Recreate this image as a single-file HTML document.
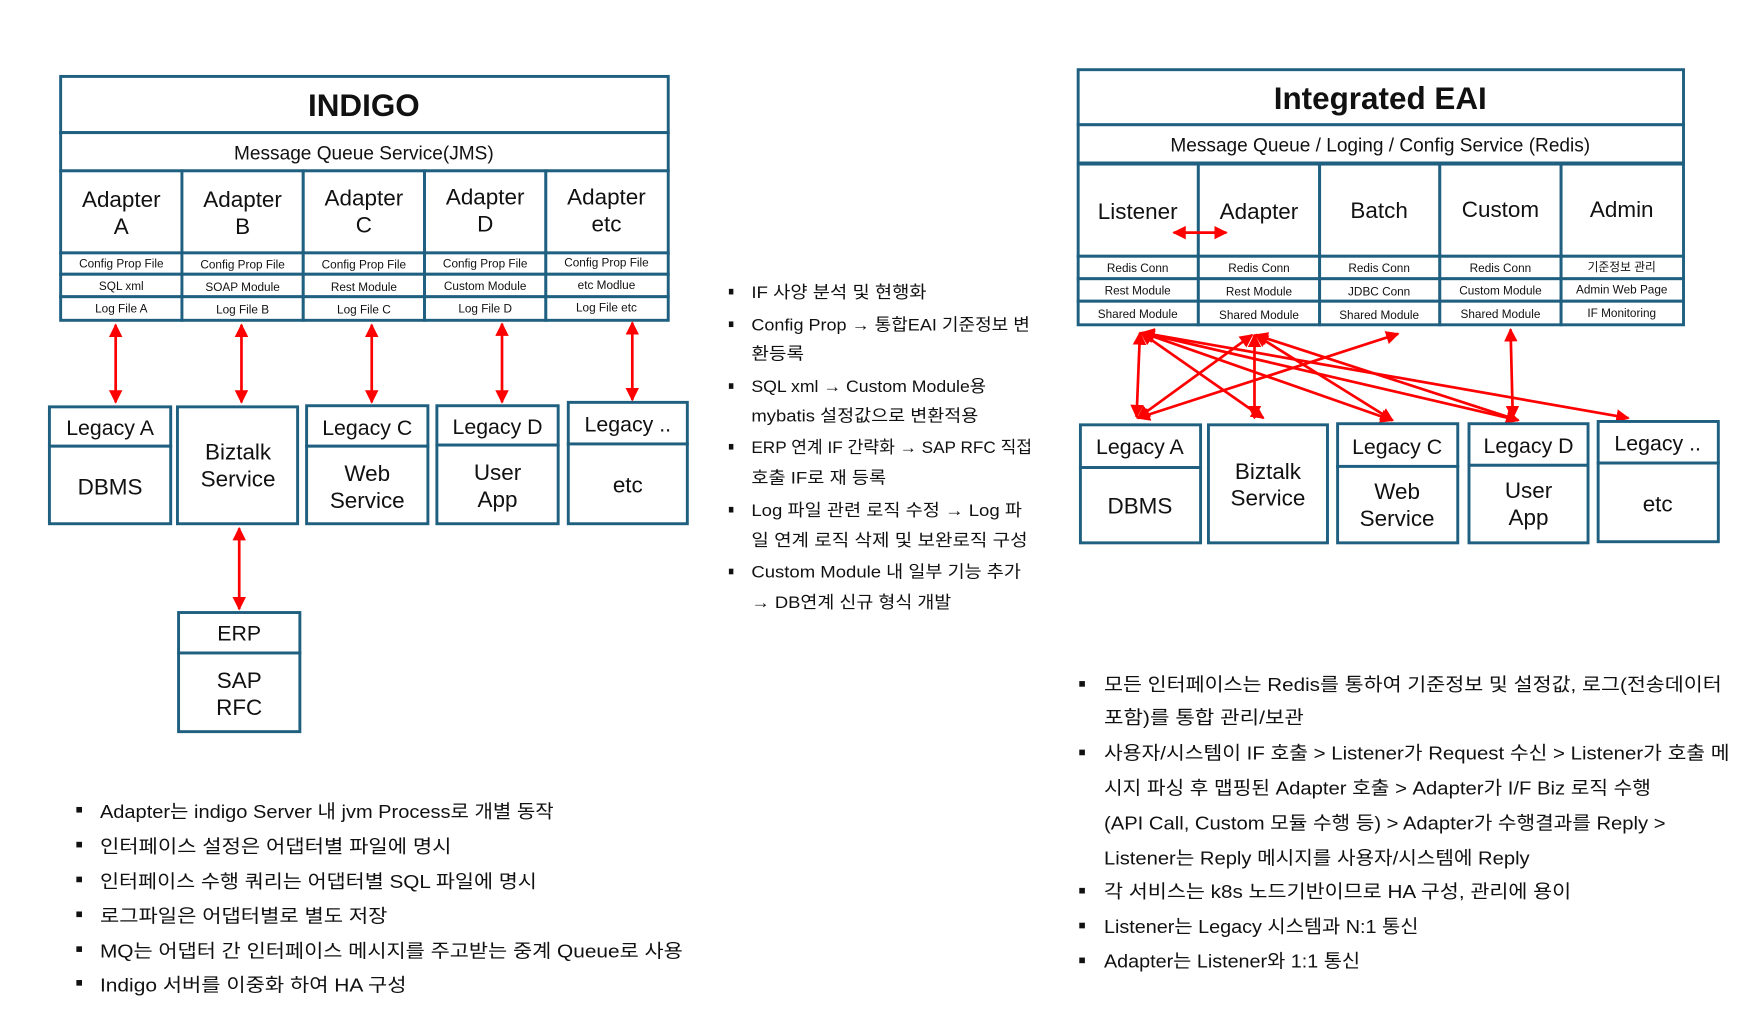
<!DOCTYPE html>
<html><head><meta charset="utf-8"><style>
html,body{margin:0;padding:0;background:#fff;width:1761px;height:1016px;overflow:hidden}
svg{display:block}
text{font-family:"Liberation Sans","Noto Sans CJK KR",sans-serif;fill:#111}
.b{fill:#fff;stroke:#1f5f80;stroke-width:2.6}
.s{font-size:10.5px}
.m{font-size:19px}
.h{font-size:20px}
.a{stroke:#f00;stroke-width:2.4;fill:none;marker-start:url(#ah);marker-end:url(#ah)}
.t1{font-size:15px}
.t2{font-size:16.5px}
</style></head><body>
<svg width="1761" height="1016" viewBox="0 0 1568 904" preserveAspectRatio="none">
<defs><marker id="ah" viewBox="0 0 10 10" refX="9" refY="5" markerWidth="5" markerHeight="5" orient="auto-start-reverse"><path d="M0,0L10,5L0,10z" fill="#f00"/></marker></defs>

<!-- INDIGO -->
<rect class="b" x="54" y="68" width="541" height="50"/>
<text x="324" y="103" text-anchor="middle" font-size="28" font-weight="bold">INDIGO</text>
<rect class="b" x="54" y="118" width="541" height="34"/>
<text x="324" y="142" text-anchor="middle" style="font-size:17px">Message Queue Service(JMS)</text>
<g>
<rect class="b" x="54" y="152" width="108" height="73"/><rect class="b" x="162" y="152" width="108" height="73"/><rect class="b" x="270" y="152" width="108" height="73"/><rect class="b" x="378" y="152" width="108" height="73"/><rect class="b" x="486" y="152" width="109" height="73"/>
<text class="h" text-anchor="middle"><tspan x="108" y="184">Adapter</tspan><tspan x="108" y="208">A</tspan></text>
<text class="h" text-anchor="middle"><tspan x="216" y="184">Adapter</tspan><tspan x="216" y="208">B</tspan></text>
<text class="h" text-anchor="middle"><tspan x="324" y="183">Adapter</tspan><tspan x="324" y="207">C</tspan></text>
<text class="h" text-anchor="middle"><tspan x="432" y="182">Adapter</tspan><tspan x="432" y="206">D</tspan></text>
<text class="h" text-anchor="middle"><tspan x="540" y="182">Adapter</tspan><tspan x="540" y="206">etc</tspan></text>
</g>
<g>
<rect class="b" x="54" y="225" width="108" height="19"/><rect class="b" x="54" y="244" width="108" height="20"/><rect class="b" x="54" y="264" width="108" height="21"/>
<rect class="b" x="162" y="225" width="108" height="19"/><rect class="b" x="162" y="244" width="108" height="20"/><rect class="b" x="162" y="264" width="108" height="21"/>
<rect class="b" x="270" y="225" width="108" height="19"/><rect class="b" x="270" y="244" width="108" height="20"/><rect class="b" x="270" y="264" width="108" height="21"/>
<rect class="b" x="378" y="225" width="108" height="19"/><rect class="b" x="378" y="244" width="108" height="20"/><rect class="b" x="378" y="264" width="108" height="21"/>
<rect class="b" x="486" y="225" width="109" height="19"/><rect class="b" x="486" y="244" width="109" height="20"/><rect class="b" x="486" y="264" width="109" height="21"/>
<g class="s" text-anchor="middle">
<text x="108" y="238">Config Prop File</text><text x="108" y="258">SQL xml</text><text x="108" y="278">Log File A</text>
<text x="216" y="239">Config Prop File</text><text x="216" y="259">SOAP Module</text><text x="216" y="279">Log File B</text>
<text x="324" y="239">Config Prop File</text><text x="324" y="259">Rest Module</text><text x="324" y="279">Log File C</text>
<text x="432" y="238">Config Prop File</text><text x="432" y="258">Custom Module</text><text x="432" y="278">Log File D</text>
<text x="540" y="237">Config Prop File</text><text x="540" y="257">etc Modlue</text><text x="540" y="277">Log File etc</text>
</g></g>
<line class="a" x1="103" y1="289" x2="103" y2="358"/>
<line class="a" x1="215" y1="289" x2="215" y2="358"/>
<line class="a" x1="331" y1="289" x2="331" y2="358"/>
<line class="a" x1="447" y1="288" x2="447" y2="358"/>
<line class="a" x1="563" y1="287" x2="563" y2="356"/>

<rect class="b" x="44" y="362" width="108" height="35"/><rect class="b" x="44" y="397" width="108" height="69"/>
<text x="98" y="387" text-anchor="middle" class="m">Legacy A</text><text x="98" y="440" text-anchor="middle" class="h">DBMS</text>
<rect class="b" x="158" y="362" width="107" height="104"/>
<text class="h" text-anchor="middle"><tspan x="212" y="409">Biztalk</tspan><tspan x="212" y="433">Service</tspan></text>
<rect class="b" x="273" y="361" width="108" height="36"/><rect class="b" x="273" y="397" width="108" height="69"/>
<text x="327" y="387" text-anchor="middle" class="m">Legacy C</text>
<text class="h" text-anchor="middle"><tspan x="327" y="428">Web</tspan><tspan x="327" y="452">Service</tspan></text>
<rect class="b" x="389" y="361" width="108" height="35"/><rect class="b" x="389" y="396" width="108" height="70"/>
<text x="443" y="386" text-anchor="middle" class="m">Legacy D</text>
<text class="h" text-anchor="middle"><tspan x="443" y="427">User</tspan><tspan x="443" y="451">App</tspan></text>
<rect class="b" x="506" y="358" width="106" height="37"/><rect class="b" x="506" y="395" width="106" height="71"/>
<text x="559" y="384" text-anchor="middle" class="m">Legacy ..</text><text x="559" y="438" text-anchor="middle" class="h">etc</text>

<line class="a" x1="213" y1="470" x2="213" y2="542"/>
<rect class="b" x="159" y="545" width="108" height="36"/><rect class="b" x="159" y="581" width="108" height="70"/>
<text x="213" y="570" text-anchor="middle" class="m">ERP</text>
<text class="h" text-anchor="middle"><tspan x="213" y="612">SAP</tspan><tspan x="213" y="636">RFC</tspan></text>

<!-- Left bullets -->
<g class="t2">
<text x="89" y="728" textLength="404" lengthAdjust="spacingAndGlyphs">Adapter는 indigo Server 내 jvm Process로 개별 동작</text>
<text x="89" y="759" textLength="313" lengthAdjust="spacingAndGlyphs">인터페이스 설정은 어댑터별 파일에 명시</text>
<text x="89" y="790" textLength="389" lengthAdjust="spacingAndGlyphs">인터페이스 수행 쿼리는 어댑터별 SQL 파일에 명시</text>
<text x="89" y="821" textLength="256" lengthAdjust="spacingAndGlyphs">로그파일은 어댑터별로 별도 저장</text>
<text x="89" y="852" textLength="519" lengthAdjust="spacingAndGlyphs">MQ는 어댑터 간 인터페이스 메시지를 주고받는 중계 Queue로 사용</text>
<text x="89" y="882" textLength="273" lengthAdjust="spacingAndGlyphs">Indigo 서버를 이중화 하여 HA 구성</text>
</g>
<g fill="#111"><rect x="68" y="718" width="5" height="5"/><rect x="68" y="749" width="5" height="5"/><rect x="68" y="780" width="5" height="5"/><rect x="68" y="811" width="5" height="5"/><rect x="68" y="842" width="5" height="5"/><rect x="68" y="872" width="5" height="5"/></g>

<!-- middle bullets -->
<g class="t1">
<text x="669" y="265" textLength="156" lengthAdjust="spacingAndGlyphs">IF 사양 분석 및 현행화</text>
<text x="669" y="294" textLength="248" lengthAdjust="spacingAndGlyphs">Config Prop → 통합EAI 기준정보 변</text>
<text x="669" y="320" textLength="47" lengthAdjust="spacingAndGlyphs">환등록</text>
<text x="669" y="349" textLength="209" lengthAdjust="spacingAndGlyphs">SQL xml → Custom Module용</text>
<text x="669" y="375" textLength="202" lengthAdjust="spacingAndGlyphs">mybatis 설정값으로 변환적용</text>
<text x="669" y="403" textLength="250" lengthAdjust="spacingAndGlyphs">ERP 연계 IF 간략화 → SAP RFC 직접</text>
<text x="669" y="430" textLength="120" lengthAdjust="spacingAndGlyphs">호출 IF로 재 등록</text>
<text x="669" y="459" textLength="241" lengthAdjust="spacingAndGlyphs">Log 파일 관련 로직 수정 → Log 파</text>
<text x="669" y="486" textLength="246" lengthAdjust="spacingAndGlyphs">일 연계 로직 삭제 및 보완로직 구성</text>
<text x="669" y="514" textLength="240" lengthAdjust="spacingAndGlyphs">Custom Module 내 일부 기능 추가</text>
<text x="669" y="541" textLength="178" lengthAdjust="spacingAndGlyphs">→ DB연계 신규 형식 개발</text>
</g>
<g fill="#111"><rect x="649" y="257" width="4" height="5"/><rect x="649" y="286" width="4" height="5"/><rect x="649" y="341" width="4" height="5"/><rect x="649" y="395" width="4" height="5"/><rect x="649" y="451" width="4" height="5"/><rect x="649" y="506" width="4" height="5"/></g>

<!-- Integrated EAI -->
<rect class="b" x="960" y="62" width="539" height="49"/>
<text x="1229" y="97" text-anchor="middle" font-size="28" font-weight="bold">Integrated EAI</text>
<rect class="b" x="960" y="111" width="539" height="34"/>
<text x="1229" y="135" text-anchor="middle" style="font-size:17px">Message Queue / Loging / Config Service (Redis)</text>
<rect class="b" x="960" y="146" width="107" height="82"/><rect class="b" x="1067" y="146" width="108" height="82"/><rect class="b" x="1175" y="146" width="107" height="82"/><rect class="b" x="1282" y="146" width="108" height="82"/><rect class="b" x="1390" y="146" width="109" height="82"/>
<g class="h" text-anchor="middle">
<text x="1013" y="195">Listener</text><text x="1121" y="195">Adapter</text><text x="1228" y="194">Batch</text><text x="1336" y="193">Custom</text><text x="1444" y="193">Admin</text>
</g>
<g>
<rect class="b" x="960" y="228" width="107" height="20"/><rect class="b" x="960" y="248" width="107" height="20"/><rect class="b" x="960" y="268" width="107" height="21"/>
<rect class="b" x="1067" y="228" width="108" height="20"/><rect class="b" x="1067" y="248" width="108" height="20"/><rect class="b" x="1067" y="268" width="108" height="21"/>
<rect class="b" x="1175" y="228" width="107" height="20"/><rect class="b" x="1175" y="248" width="107" height="20"/><rect class="b" x="1175" y="268" width="107" height="21"/>
<rect class="b" x="1282" y="228" width="108" height="20"/><rect class="b" x="1282" y="248" width="108" height="20"/><rect class="b" x="1282" y="268" width="108" height="21"/>
<rect class="b" x="1390" y="228" width="109" height="20"/><rect class="b" x="1390" y="248" width="109" height="20"/><rect class="b" x="1390" y="268" width="109" height="21"/>
<g class="s" text-anchor="middle">
<text x="1013" y="242">Redis Conn</text><text x="1013" y="262">Rest Module</text><text x="1013" y="283">Shared Module</text>
<text x="1121" y="242">Redis Conn</text><text x="1121" y="263">Rest Module</text><text x="1121" y="284">Shared Module</text>
<text x="1228" y="242">Redis Conn</text><text x="1228" y="263">JDBC Conn</text><text x="1228" y="284">Shared Module</text>
<text x="1336" y="242">Redis Conn</text><text x="1336" y="262">Custom Module</text><text x="1336" y="283">Shared Module</text>
<text x="1444" y="241">기준정보 관리</text><text x="1444" y="261">Admin Web Page</text><text x="1444" y="282">IF Monitoring</text>
</g></g>
<line class="a" x1="1045" y1="207" x2="1092" y2="207"/>

<g>
<line class="a" x1="1015" y1="296" x2="1012" y2="371"/>
<line class="a" x1="1016" y1="296" x2="1125" y2="372"/>
<line class="a" x1="1017" y1="296" x2="1240" y2="374"/>
<line class="a" x1="1017" y1="296" x2="1352" y2="374"/>
<line class="a" x1="1017" y1="296" x2="1450" y2="372"/>
<line class="a" x1="1115" y1="298" x2="1013" y2="372"/>
<line class="a" x1="1117" y1="298" x2="1117" y2="372"/>
<line class="a" x1="1118" y1="298" x2="1240" y2="374"/>
<line class="a" x1="1118" y1="298" x2="1352" y2="374"/>
<line class="a" x1="1013" y1="372" x2="1245" y2="297"/>
<line class="a" x1="1345" y1="293" x2="1347" y2="372"/>
</g>

<rect class="b" x="962" y="378" width="107" height="38"/><rect class="b" x="962" y="416" width="107" height="67"/>
<text x="1015" y="404" text-anchor="middle" class="m">Legacy A</text><text x="1015" y="457" text-anchor="middle" class="h">DBMS</text>
<rect class="b" x="1076" y="378" width="106" height="105"/>
<text class="h" text-anchor="middle"><tspan x="1129" y="426">Biztalk</tspan><tspan x="1129" y="450">Service</tspan></text>
<rect class="b" x="1191" y="377" width="107" height="38"/><rect class="b" x="1191" y="415" width="107" height="68"/>
<text x="1244" y="404" text-anchor="middle" class="m">Legacy C</text>
<text class="h" text-anchor="middle"><tspan x="1244" y="444">Web</tspan><tspan x="1244" y="468">Service</tspan></text>
<rect class="b" x="1308" y="377" width="106" height="37"/><rect class="b" x="1308" y="414" width="106" height="69"/>
<text x="1361" y="403" text-anchor="middle" class="m">Legacy D</text>
<text class="h" text-anchor="middle"><tspan x="1361" y="443">User</tspan><tspan x="1361" y="467">App</tspan></text>
<rect class="b" x="1423" y="375" width="107" height="37"/><rect class="b" x="1423" y="412" width="107" height="70"/>
<text x="1476" y="401" text-anchor="middle" class="m">Legacy ..</text><text x="1476" y="455" text-anchor="middle" class="h">etc</text>

<!-- right bullets -->
<g class="t2">
<text x="983" y="615" textLength="550" lengthAdjust="spacingAndGlyphs">모든 인터페이스는 Redis를 통하여 기준정보 및 설정값, 로그(전송데이터</text>
<text x="983" y="644" textLength="178" lengthAdjust="spacingAndGlyphs">포함)를 통합 관리/보관</text>
<text x="983" y="676" textLength="557" lengthAdjust="spacingAndGlyphs">사용자/시스템이 IF 호출 &gt; Listener가 Request 수신 &gt; Listener가 호출 메</text>
<text x="983" y="707" textLength="487" lengthAdjust="spacingAndGlyphs">시지 파싱 후 맵핑된 Adapter 호출 &gt; Adapter가 I/F Biz 로직 수행</text>
<text x="983" y="738" textLength="500" lengthAdjust="spacingAndGlyphs">(API Call, Custom 모듈 수행 등) &gt; Adapter가 수행결과를 Reply &gt;</text>
<text x="983" y="769" textLength="379" lengthAdjust="spacingAndGlyphs">Listener는 Reply 메시지를 사용자/시스템에 Reply</text>
<text x="983" y="799" textLength="416" lengthAdjust="spacingAndGlyphs">각 서비스는 k8s 노드기반이므로 HA 구성, 관리에 용이</text>
<text x="983" y="830" textLength="280" lengthAdjust="spacingAndGlyphs">Listener는 Legacy 시스템과 N:1 통신</text>
<text x="983" y="861" textLength="228" lengthAdjust="spacingAndGlyphs">Adapter는 Listener와 1:1 통신</text>
</g>
<g fill="#111"><rect x="961" y="606" width="5" height="5"/><rect x="961" y="667" width="5" height="5"/><rect x="961" y="790" width="5" height="5"/><rect x="961" y="821" width="5" height="5"/><rect x="961" y="852" width="5" height="5"/></g>
</svg>
</body></html>
